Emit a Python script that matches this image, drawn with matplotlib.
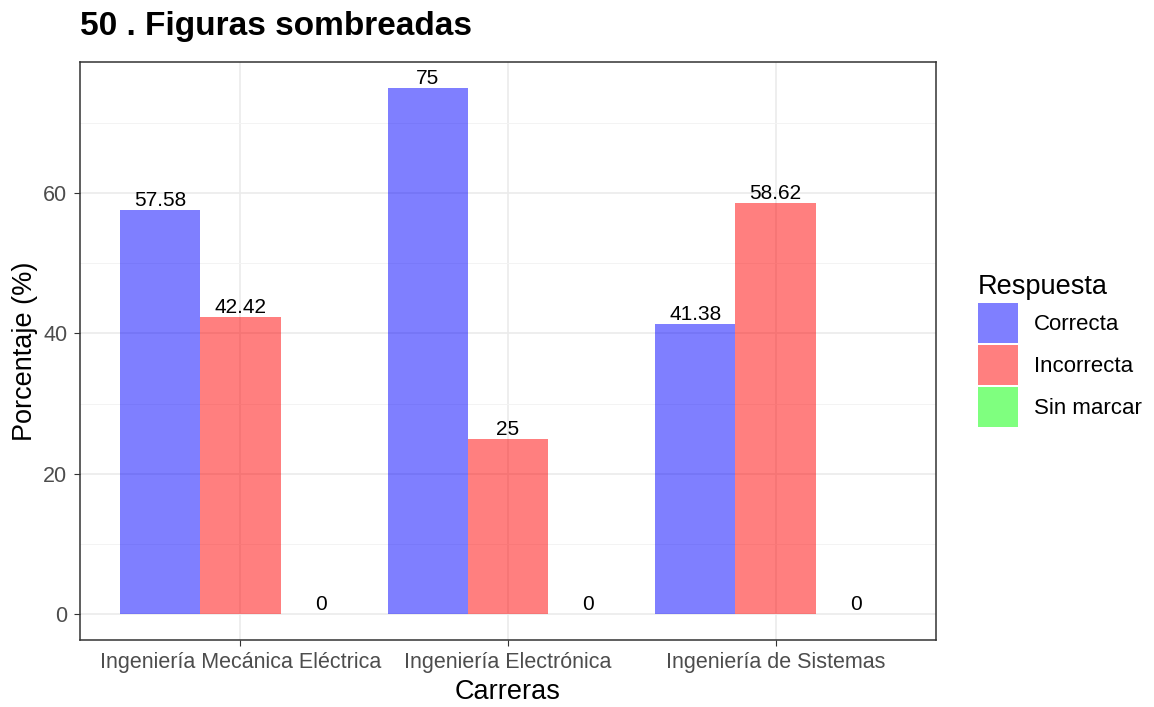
import matplotlib.pyplot as plt
import numpy as np

plt.rcParams['font.family'] = ['Liberation Sans', 'DejaVu Sans']

carreras = ["Ingeniería Mecánica Eléctrica", "Ingeniería Electrónica", "Ingeniería de Sistemas"]
respuestas = ["Correcta", "Incorrecta", "Sin marcar"]
correcta = [57.58, 75, 41.38]
incorrecta = [42.42, 25, 58.62]
sin_marcar = [0, 0, 0]
colores = ["#0000ff", "#ff0000", "#00ff00"]

fig = plt.figure(figsize=(11.54, 7.07), dpi=100)
ax = fig.add_axes([0.0693, 0.0948, 0.7418, 0.8175])

x = np.arange(1, len(carreras) + 1)
ancho = 0.3
series = [correcta, incorrecta, sin_marcar]
for i, (vals, col, lab) in enumerate(zip(series, colores, respuestas)):
    pos = x + (i - 1) * ancho
    ax.bar(pos, vals, width=ancho, color=col, alpha=0.5, label=lab, zorder=2, linewidth=0)
    for p, v in zip(pos, vals):
        ax.text(p, v, f"{v:g}", ha="center", va="bottom", fontsize=15, color="black", zorder=3)

ax.set_xlim(0.4, 3.6)
ax.set_ylim(-3.75, 78.75)
ax.set_xticks(x)
ax.set_xticklabels(carreras)
ax.set_yticks([0, 20, 40, 60])
ax.set_yticks([10, 30, 50, 70], minor=True)
ax.grid(True, which="major", color="#ebebeb", linewidth=1.2, zorder=0)
ax.grid(True, which="minor", axis="y", color="#f3f3f3", linewidth=0.7, zorder=0)
ax.set_axisbelow(True)
ax.tick_params(axis="both", which="major", labelsize=15.5, labelcolor="#4d4d4d", color="#333333",
               length=4, pad=5)
ax.tick_params(axis="y", which="minor", length=0)
for s in ax.spines.values():
    s.set_color("#333333")
    s.set_linewidth(1.1)

ax.set_xlabel("Carreras", fontsize=19.5, labelpad=4)
ax.set_ylabel("Porcentaje (%)", fontsize=19.5, labelpad=4)
fig.text(0.0693, 0.962, "50 . Figuras sombreadas", fontsize=24, fontweight="bold", ha="left", va="center")

leg = ax.legend(loc="center left", bbox_to_anchor=(1.049, 0.5), frameon=False, title="Respuesta",
                fontsize=16, title_fontsize=19.5, handlelength=1.8, handleheight=2.4,
                handletextpad=0.7, labelspacing=0.1, borderaxespad=0, borderpad=0)
leg._legend_box.align = "left"

fig.savefig("out.png", dpi=100)
